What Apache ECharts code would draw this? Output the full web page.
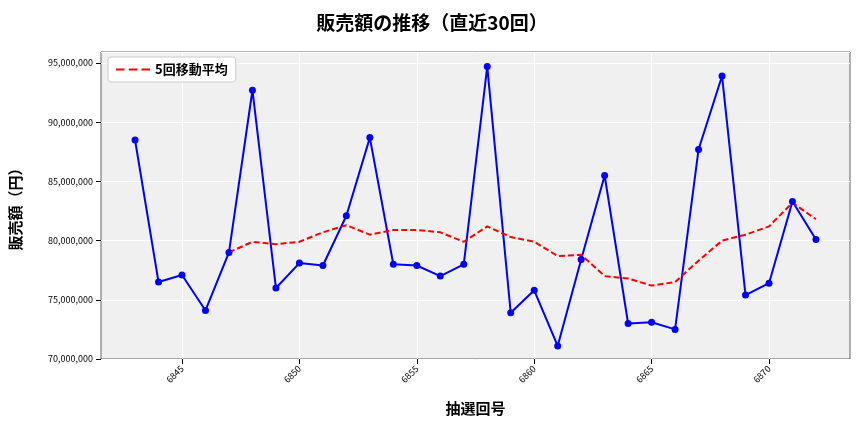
<!DOCTYPE html><html><head><meta charset="utf-8"><script src="https://cdn.jsdelivr.net/npm/echarts@6/dist/echarts.min.js"></script></head><body style="margin:0"><div id="c" style="width:864px;height:432px"></div><script>
const draws=[6843,6844,6845,6846,6847,6848,6849,6850,6851,6852,6853,6854,6855,6856,6857,6858,6859,6860,6861,6862,6863,6864,6865,6866,6867,6868,6869,6870,6871,6872];
const sales=[88.5,76.5,77.1,74.1,79.0,92.7,76.0,78.1,77.9,82.1,88.7,78.0,77.9,77.0,78.0,94.7,73.9,75.8,71.1,78.4,85.5,73.0,73.1,72.5,87.7,93.9,75.4,76.4,83.3,80.1];
const maDraws=draws.slice(4);
const ma=[79.0,79.9,79.7,79.9,80.7,81.3,80.5,80.9,80.9,80.7,79.9,81.2,80.3,79.9,78.7,78.8,77.0,76.8,76.2,76.5,78.3,80.0,80.5,81.2,83.2,81.8];
const xTicks=[6845,6850,6855,6860,6865,6870];
const f='"Noto Sans CJK JP"';
const c=echarts.init(document.getElementById('c'));
c.setOption({animation:false,
title:{text:'販売額の推移（直近30回）',left:'center',top:8,textStyle:{fontFamily:f,fontSize:19,fontWeight:'bold',color:'#000'}},
legend:{left:108,top:57,itemWidth:34,itemHeight:3,backgroundColor:'#fff',borderColor:'#ccc',borderWidth:1,borderRadius:3,padding:[6,8],textStyle:{fontFamily:f,fontSize:13,color:'#000',fontWeight:'bold'},data:[{name:'5回移動平均',icon:'path://M0,0H8V2H0ZM12,0H20V2H12ZM24,0H32V2H24Z'}]},
grid:{left:100,right:14,top:52,bottom:73,show:true,backgroundColor:'#f0f0f0',borderColor:'#000',borderWidth:0.6},
xAxis:{type:'value',min:6841.55,max:6873.45,name:'抽選回号',nameLocation:'middle',nameGap:42,nameTextStyle:{fontFamily:f,fontSize:15,color:'#000',fontWeight:'bold'},
 axisLine:{show:false},axisTick:{show:true,customValues:xTicks,lineStyle:{color:'#000'}},
 axisLabel:{customValues:xTicks,rotate:45,fontSize:9,color:'#000',fontFamily:f,formatter:v=>String(v)},
 splitLine:{show:true,customValues:xTicks,lineStyle:{color:'#fff',width:1}}},
yAxis:{type:'value',min:70000000,max:95930000,interval:5000000,name:'販売額（円）',nameLocation:'middle',nameGap:78,nameTextStyle:{fontFamily:f,fontSize:15,color:'#000',fontWeight:'bold'},
 axisLine:{show:false},axisTick:{show:true,lineStyle:{color:'#000'}},
 axisLabel:{fontSize:9,color:'#000',fontFamily:f,showMaxLabel:false,formatter:v=>v.toLocaleString('en-US')},
 splitLine:{lineStyle:{color:'#fff',width:1}}},
series:[{type:'line',data:draws.map((d,i)=>[d,sales[i]*1e6]),color:'#0000ff',lineStyle:{width:2},symbol:'circle',symbolSize:7,itemStyle:{color:'#0000ff'}},
{name:'5回移動平均',type:'line',data:maDraws.map((d,i)=>[d,ma[i]*1e6]),color:'#ff0000',lineStyle:{width:2,type:[6,3]},symbol:'none'}]});
</script></body></html>
